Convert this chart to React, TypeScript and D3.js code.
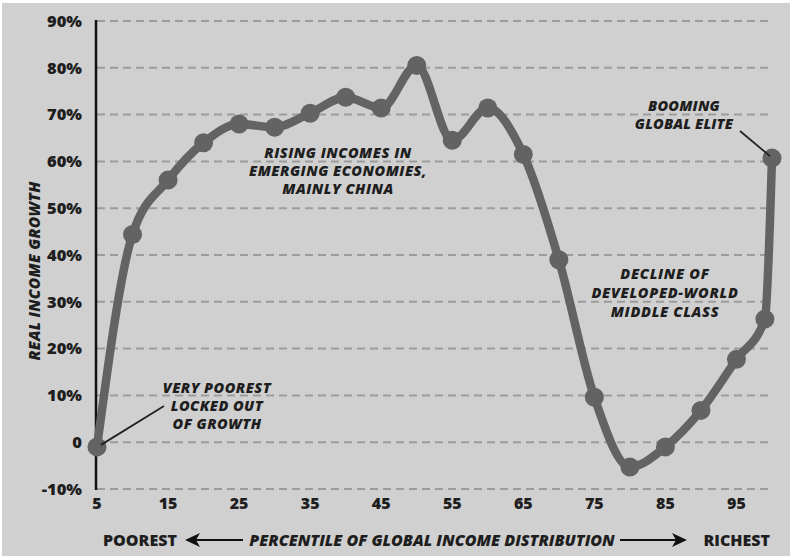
import React from "react";
import * as d3 from "d3";

const percentiles = [5, 10, 15, 20, 25, 30, 35, 40, 45, 50, 55, 60, 65, 70, 75, 80, 85, 90, 95, 99, 100];
const growth = [-1, 44.4, 56, 64, 68, 67.3, 70.3, 73.7, 71.4, 80.5, 64.5, 71.4, 61.5, 39, 9.6, -5.3, -1, 6.8, 17.7, 26.3, 60.7];
const yTicks = [-10, 0, 10, 20, 30, 40, 50, 60, 70, 80, 90];
const xTicks = [5, 15, 25, 35, 45, 55, 65, 75, 85, 95];

const W = 792, H = 556;
const FONT = "'Open Sans', Lato, sans-serif";

export default function App() {
  const x = d3.scaleLinear().domain([5, 100]).range([97, 772]);
  const y = d3.scaleLinear().domain([-10, 90]).range([489, 21]);
  const pts = percentiles.map((p, i) => [p, growth[i]] as [number, number]);
  const line = d3.line<[number, number]>().x(d => x(d[0])).y(d => y(d[1])).curve(d3.curveMonotoneX);
  const lineCol = "#636363";
  const textCol = "#1e1e1e";
  const yLab = (v: number) => (v === 0 ? "0" : `${v}%`);
  const p5 = pts[0], pLast = pts[pts.length - 1];
  return (
    <svg width={W} height={H} style={{ position: "absolute", left: 0, top: 0 }}>
      <rect x={0} y={0} width={W} height={H} fill="#ffffff" />
      <rect x={2} y={3} width={W - 4} height={H - 3} fill="#d0d0d0" />
      {yTicks.map(t => (
        <line key={t} x1={x(5)} x2={773} y1={y(t)} y2={y(t)} stroke="#9c9c9c" strokeWidth={2} strokeDasharray="8 5" />
      ))}
      <line x1={96} x2={96} y1={y(90) - 1} y2={y(-10) + 1} stroke="#111" strokeWidth={2.5} />
      {yTicks.map(t => (
        <text key={t} x={82} y={y(t)} dy="0.35em" textAnchor="end" fontFamily={FONT} fontWeight={800} fontSize={16.5} fill={textCol}>{yLab(t)}</text>
      ))}
      {xTicks.map(t => (
        <text key={t} x={x(t)} y={503} dy="0.35em" textAnchor="middle" fontFamily={FONT} fontWeight={800} fontSize={16} fill={textCol}>{t}</text>
      ))}
      <text transform={`translate(35,271) rotate(-90)`} textAnchor="middle" dy="0.35em" fontFamily={FONT} fontWeight={800} fontStyle="italic" fontSize={15.5} letterSpacing={0.3} fill={textCol}>REAL INCOME GROWTH</text>

      <path d={line(pts) || ""} fill="none" stroke={lineCol} strokeWidth={8.5} strokeLinejoin="round" strokeLinecap="round" />
      {pts.map((d, i) => (
        <circle key={i} cx={x(d[0])} cy={y(d[1])} r={9.5} fill={lineCol} />
      ))}

      {/* annotations */}
      <line x1={x(p5[0]) + 4} y1={y(p5[1]) - 2} x2={164} y2={406} stroke="#222" strokeWidth={1.8} />
      <g fontFamily={FONT} fontWeight={800} fontStyle="italic" fontSize={14.5} letterSpacing={0.45} fill={textCol} textAnchor="middle">
        <text x={217} y={388} dy="0.35em">VERY POOREST</text>
        <text x={217} y={406} dy="0.35em">LOCKED OUT</text>
        <text x={217} y={424} dy="0.35em">OF GROWTH</text>
      </g>
      <g fontFamily={FONT} fontWeight={800} fontStyle="italic" fontSize={14.5} letterSpacing={0.5} fill={textCol} textAnchor="middle">
        <text x={338} y={153} dy="0.35em">RISING INCOMES IN</text>
        <text x={338} y={171} dy="0.35em">EMERGING ECONOMIES,</text>
        <text x={338} y={189} dy="0.35em">MAINLY CHINA</text>
      </g>
      <line x1={740} y1={131} x2={x(pLast[0]) - 2} y2={y(pLast[1]) - 2} stroke="#222" strokeWidth={1.8} />
      <g fontFamily={FONT} fontWeight={800} fontStyle="italic" fontSize={14.5} letterSpacing={0.2} fill={textCol} textAnchor="middle">
        <text x={684} y={106} dy="0.35em">BOOMING</text>
        <text x={684} y={124} dy="0.35em">GLOBAL ELITE</text>
      </g>
      <g fontFamily={FONT} fontWeight={800} fontStyle="italic" fontSize={14.5} letterSpacing={0.7} fill={textCol} textAnchor="middle">
        <text x={665} y={274} dy="0.35em">DECLINE OF</text>
        <text x={665} y={293} dy="0.35em">DEVELOPED-WORLD</text>
        <text x={665} y={312} dy="0.35em">MIDDLE CLASS</text>
      </g>

      {/* bottom axis caption */}
      <text x={103} y={540} dy="0.35em" fontFamily={FONT} fontWeight={800} fontSize={16} fill={textCol}>POOREST</text>
      <line x1={192} x2={243} y1={540} y2={540} stroke="#111" strokeWidth={2} />
      <path d="M185,540 L200,533 L196,540 L200,547 Z" fill="#111" />
      <text x={432} y={540} dy="0.35em" textAnchor="middle" fontFamily={FONT} fontWeight={800} fontStyle="italic" fontSize={16} fill={textCol}>PERCENTILE OF GLOBAL INCOME DISTRIBUTION</text>
      <line x1={620} x2={680} y1={540} y2={540} stroke="#111" strokeWidth={2} />
      <path d="M687,540 L672,533 L676,540 L672,547 Z" fill="#111" />
      <text x={770} y={540} dy="0.35em" textAnchor="end" fontFamily={FONT} fontWeight={800} fontSize={16} fill={textCol}>RICHEST</text>
    </svg>
  );
}
